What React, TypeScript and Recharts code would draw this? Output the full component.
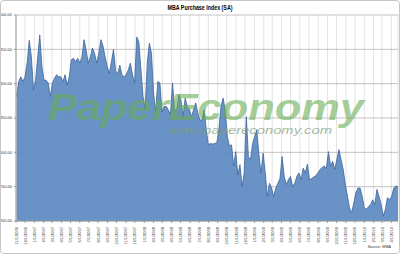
import { AreaChart, Area, XAxis, YAxis, CartesianGrid } from "recharts";

// weekly MBA purchase index, first week ending 11/3/2006
const firstWeek = "2006-11-03";
const purchaseIndex = [
  381, 403, 410, 403, 410, 430, 463, 439, 391, 405, 438, 471, 425, 405, 405, 401,
  381, 401, 408, 413, 410, 410, 403, 413, 398, 410, 435, 437, 432, 437, 430, 439,
  464, 449, 430, 439, 452, 444, 430, 444, 464, 455, 439, 425, 415, 432, 450, 418,
  415, 427, 413, 410, 413, 420, 430, 413, 401, 468, 461, 420, 381, 362, 430, 459,
  444, 386, 359, 403, 401, 359, 367, 367, 362, 355, 401, 362, 362, 384, 376, 352,
  379, 367, 362, 352, 362, 372, 357, 347, 347, 362, 333, 311, 313, 312, 313, 314,
  333, 367, 379, 362, 323, 309, 311, 280, 301, 267, 282, 250, 270, 352, 294, 289,
  313, 323, 333, 296, 270, 299, 270, 236, 255, 248, 236, 248, 255, 262, 294, 265,
  253, 260, 265, 250, 255, 265, 270, 260, 277, 270, 283, 260, 262, 264, 266, 270,
  275, 278, 280, 277, 301, 280, 287, 275, 290, 304, 289, 275, 253, 236, 219, 212,
  226, 241, 248, 248, 236, 219, 217, 221, 224, 231, 224, 246, 236, 224, 207, 217,
  234, 231, 236, 248, 251, 250,
];
const yTicks = [200, 250, 300, 350, 400, 450, 500];
const firstMonth = "2006-11-01";
const monthCount = 42;

const DAY = 86400000;
const start = Date.parse(firstWeek + "T00:00:00Z");
const data = purchaseIndex.map((v, i) => ({ t: start + i * 7 * DAY, v }));

const m0 = new Date(firstMonth + "T00:00:00Z");
const monthTicks: number[] = [];
for (let i = 0; i < monthCount; i++) {
  monthTicks.push(Date.UTC(m0.getUTCFullYear(), m0.getUTCMonth() + i, 1));
}

const fmtDate = (t: number) => {
  const d = new Date(t);
  return `${d.getUTCMonth() + 1}/${d.getUTCDate()}/${d.getUTCFullYear()}`;
};

const font = "'Liberation Sans', Arial, sans-serif";

const DateTick = (props: any) => {
  const { x, y, payload } = props;
  return (
    <text
      x={0}
      y={0}
      transform={`translate(${x + 1.5},${y + 2}) rotate(-90)`}
      textAnchor="end"
      fontSize={4}
      fill="#333"
      fontFamily={font}
    >
      {fmtDate(payload.value)}
    </text>
  );
};

export default function App() {
  return (
    <div style={{ position: "absolute", left: 0, top: 0, width: 400, height: 254, background: "#fff" }}>
      <AreaChart width={400} height={254} data={data} margin={{ top: 15, right: 2, left: 0, bottom: 0 }}>
        <CartesianGrid stroke="#dadada" strokeWidth={0.8} horizontal={false} />
        <CartesianGrid stroke="#b4b4b4" strokeWidth={0.8} vertical={false} />
        <XAxis
          dataKey="t"
          type="number"
          domain={[monthTicks[0], data[data.length - 1].t]}
          ticks={monthTicks}
          interval={0}
          tick={<DateTick />}
          height={33}
          stroke="#999"
          tickSize={2}
        />
        <YAxis
          domain={[200, 500]}
          ticks={yTicks}
          tickFormatter={(v: number) => v.toFixed(2)}
          width={16}
          tick={{ fontSize: 4, fill: "#333", fontFamily: font }}
          stroke="#999"
          tickSize={2}
        />
        <Area
          type="linear"
          dataKey="v"
          fill="#5e8ac3"
          fillOpacity={0.93}
          stroke="#3b6597"
          strokeWidth={0.8}
          isAnimationActive={false}
        />
      </AreaChart>
      <svg width={400} height={254} style={{ position: "absolute", left: 0, top: 0, pointerEvents: "none" }}>
        <rect x={0.5} y={0.5} width={399} height={253} rx={3} fill="none" stroke="#c6c6c6" />
        <text x={200} y={10} textAnchor="middle" fontSize={6.5} fontWeight="bold" fontFamily={font} fill="#000" textLength={65} lengthAdjust="spacingAndGlyphs">
          MBA Purchase Index (SA)
        </text>
        <text x={48} y={120} fontSize={37} fontStyle="italic" fontWeight="bold" fontFamily={font} fill="#6aae55" fillOpacity={0.6} textLength={316} lengthAdjust="spacingAndGlyphs">
          PaperEconomy
        </text>
        <text x={168} y={134} fontSize={11} fontStyle="italic" fontFamily={font} fill="#7f9f7f" fillOpacity={0.75} textLength={164} lengthAdjust="spacingAndGlyphs">
          www.papereconomy.com
        </text>
        <text x={391} y={248} textAnchor="end" fontSize={4} fontFamily={font} fill="#333">
          Source: MBA
        </text>
      </svg>
    </div>
  );
}
